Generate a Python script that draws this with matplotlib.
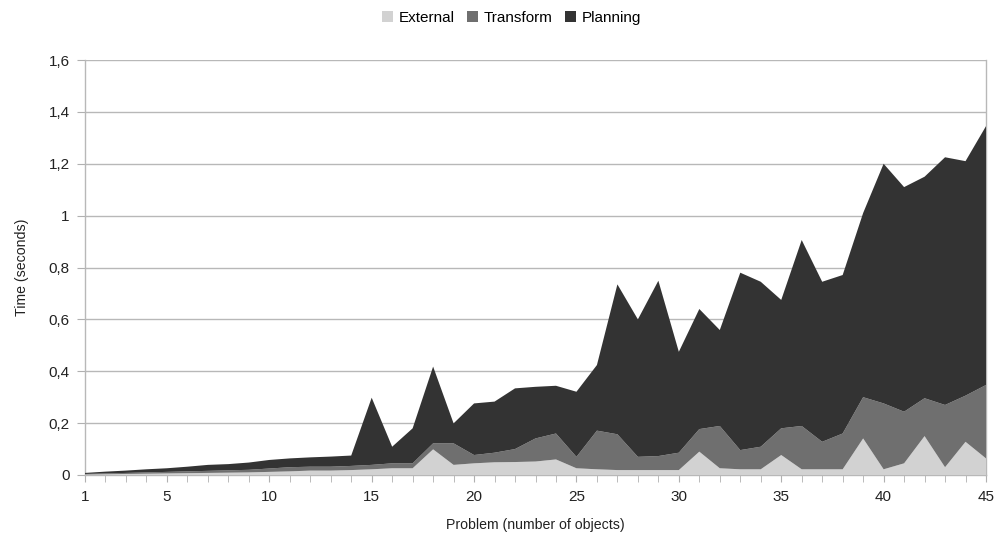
import matplotlib
matplotlib.use("Agg")
import matplotlib.pyplot as plt
from matplotlib.ticker import FixedLocator, MultipleLocator, FuncFormatter
from matplotlib.patches import Patch

plt.rcParams['font.family'] = ['Liberation Sans', 'DejaVu Sans']

problems = list(range(1, 46))
external = [0.002, 0.003, 0.004, 0.005, 0.006, 0.007, 0.008, 0.009, 0.010, 0.012,
            0.014, 0.017, 0.017, 0.019, 0.022, 0.026, 0.026, 0.099, 0.039, 0.045,
            0.049, 0.050, 0.052, 0.060, 0.026, 0.022, 0.019, 0.019, 0.019, 0.019,
            0.090, 0.026, 0.022, 0.022, 0.077, 0.022, 0.022, 0.022, 0.141, 0.022,
            0.045, 0.150, 0.030, 0.128, 0.064]
transform = [0.002, 0.003, 0.004, 0.005, 0.006, 0.007, 0.008, 0.009, 0.010, 0.013,
             0.016, 0.015, 0.015, 0.016, 0.017, 0.019, 0.019, 0.023, 0.083, 0.032,
             0.037, 0.050, 0.089, 0.100, 0.044, 0.149, 0.138, 0.051, 0.054, 0.067,
             0.087, 0.163, 0.074, 0.087, 0.103, 0.167, 0.106, 0.138, 0.159, 0.254,
             0.199, 0.146, 0.240, 0.178, 0.283]
planning = [0.004, 0.007, 0.009, 0.012, 0.014, 0.018, 0.023, 0.024, 0.028, 0.033,
            0.034, 0.036, 0.039, 0.040, 0.259, 0.064, 0.135, 0.296, 0.077, 0.199,
            0.197, 0.234, 0.199, 0.184, 0.251, 0.253, 0.578, 0.530, 0.676, 0.389,
            0.463, 0.370, 0.684, 0.636, 0.495, 0.717, 0.617, 0.611, 0.710, 0.924,
            0.866, 0.854, 0.955, 0.904, 0.998]
series_names = ["External", "Transform", "Planning"]
colors = ["#d2d2d2", "#6f6f6f", "#333333"]
x_tick_labels = [1, 5, 10, 15, 20, 25, 30, 35, 40, 45]
y_ticks = [0, 0.2, 0.4, 0.6, 0.8, 1.0, 1.2, 1.4, 1.6]

fig = plt.figure(figsize=(9.97, 5.37), dpi=100)
ax = fig.add_axes([85/997, 62/537, 901/997, 415/537])

ax.stackplot(problems, external, transform, planning, colors=colors,
             labels=series_names, linewidth=0, zorder=3)

ax.set_xlim(1, 45)
ax.set_ylim(0, 1.6)
ax.xaxis.set_major_locator(FixedLocator(x_tick_labels))
ax.xaxis.set_minor_locator(MultipleLocator(1))
ax.yaxis.set_major_locator(FixedLocator(y_ticks))

def yfmt(v, pos):
    if abs(v - round(v)) < 1e-9:
        return str(int(round(v)))
    return f"{v:.1f}".replace(".", ",")

ax.yaxis.set_major_formatter(FuncFormatter(yfmt))
ax.grid(axis='y', color='#b8b8b8', linewidth=1.0, zorder=0)
ax.set_axisbelow(True)

ax.spines['top'].set_visible(False)
for s in ['left', 'bottom', 'right']:
    ax.spines[s].set_color('#b8b8b8')
    ax.spines[s].set_linewidth(1.0)

ax.tick_params(axis='x', which='both', direction='out', length=5, color='#b0b0b0',
               labelsize=11, labelcolor='#222222', pad=6)
ax.tick_params(axis='y', which='major', direction='out', length=6, color='#b0b0b0',
               labelsize=11, labelcolor='#222222', pad=5)
ax.tick_params(axis='y', which='minor', length=0)

ax.set_xlabel("Problem (number of objects)", fontsize=10.2, color='#222222', labelpad=10)
ax.set_ylabel("Time (seconds)", fontsize=10.2, color='#222222', labelpad=14)

handles = [Patch(facecolor=c, edgecolor='none') for c in colors]
fig.legend(handles, series_names, loc='upper center', bbox_to_anchor=(0.513, 1.005),
           ncol=3, frameon=False, fontsize=11, handlelength=0.7, handleheight=0.7,
           handletextpad=0.4, columnspacing=0.8)

fig.savefig("out.png", dpi=100)
